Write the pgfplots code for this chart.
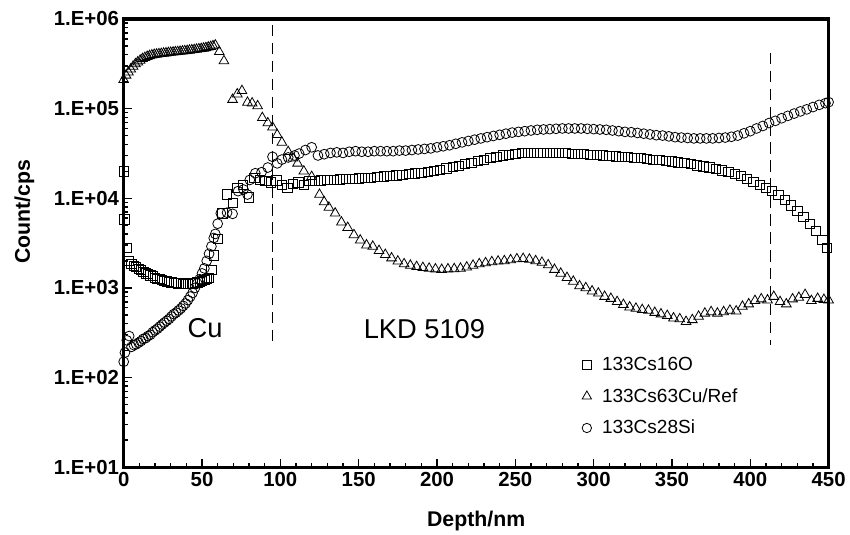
\documentclass[border=0pt]{standalone}
\usepackage{fontspec}
\setmainfont{Liberation Sans}
\usepackage{pgfplots}
\pgfplotsset{compat=1.18}

% depth profiles, counts per second
\pgfplotstableread{
x y
0 2.0e4
0.5 5.8e3
2 2.8e3
3.5 2.0e3
5 1.85e3
6.5 1.75e3
8 1.7e3
9.5 1.62e3
11 1.58e3
12.5 1.52e3
14 1.45e3
15.5 1.42e3
17 1.38e3
18.5 1.35e3
20 1.3e3
21.5 1.27e3
23 1.25e3
24.5 1.22e3
26 1.2e3
27.5 1.18e3
29 1.17e3
30.5 1.15e3
32 1.14e3
33.5 1.13e3
35 1.12e3
36.5 1.12e3
38 1.1e3
39.5 1.1e3
41 1.1e3
42.5 1.12e3
44 1.12e3
45.5 1.13e3
47 1.15e3
48.5 1.17e3
50 1.2e3
51.5 1.22e3
53 1.25e3
54.5 1.3e3
56 1.6e3
57.5 2.3e3
60 3.5e3
63 6.8e3
66 1.1e4
69.5 8.9e3
72.5 1.3e4
76 1.4e4
80 1.02e4
83.5 1.7e4
87 1.6e4
90.5 1.55e4
94 1.5e4
97.5 1.58e4
101 1.42e4
104.5 1.3e4
108 1.45e4
111.5 1.5e4
115 1.42e4
118.5 1.55e4
122 1.55e4
126 1.58e4
130 1.6e4
134 1.6e4
138 1.62e4
142 1.63e4
146 1.65e4
150 1.66e4
154 1.68e4
158 1.7e4
162 1.72e4
166 1.75e4
170 1.78e4
174 1.8e4
178 1.83e4
182 1.86e4
186 1.9e4
190 1.93e4
194 1.97e4
198 2.02e4
202 2.08e4
206 2.15e4
210 2.22e4
214 2.3e4
218 2.4e4
222 2.5e4
226 2.6e4
230 2.7e4
234 2.8e4
238 2.9e4
242 3.0e4
246 3.07e4
250 3.13e4
254 3.18e4
258 3.2e4
262 3.22e4
266 3.23e4
270 3.23e4
274 3.22e4
278 3.2e4
282 3.18e4
286 3.15e4
290 3.12e4
294 3.1e4
298 3.07e4
302 3.03e4
306 3.0e4
310 2.97e4
314 2.93e4
318 2.9e4
322 2.87e4
326 2.83e4
330 2.8e4
334 2.75e4
338 2.7e4
342 2.66e4
346 2.62e4
350 2.57e4
354 2.52e4
358 2.47e4
362 2.4e4
366 2.33e4
370 2.27e4
374 2.2e4
378 2.12e4
382 2.04e4
386 1.96e4
390 1.87e4
394 1.77e4
398 1.65e4
402 1.53e4
406 1.42e4
410 1.3e4
414 1.2e4
418 1.08e4
422 9.5e3
426 8.3e3
430 7.2e3
434 6.2e3
438 5.2e3
442 4.3e3
446 3.4e3
449 2.8e3
}\csO

\pgfplotstableread{
x y
0 2.1e5
1.5 2.35e5
3 2.55e5
4.5 2.75e5
6 2.95e5
7.5 3.15e5
9 3.3e5
10.5 3.45e5
12 3.6e5
13.5 3.7e5
15 3.8e5
16.5 3.88e5
18 3.95e5
19.5 4.0e5
21 4.03e5
22.5 4.07e5
24 4.1e5
25.5 4.13e5
27 4.16e5
28.5 4.2e5
30 4.22e5
31.5 4.25e5
33 4.28e5
34.5 4.3e5
36 4.33e5
37.5 4.36e5
39 4.4e5
40.5 4.42e5
42 4.46e5
43.5 4.5e5
45 4.53e5
46.5 4.57e5
48 4.62e5
49.5 4.66e5
51 4.7e5
52.5 4.76e5
54 4.83e5
55.5 4.9e5
57 5.0e5
58.5 5.1e5
61 4.3e5
64 3.4e5
69.5 1.26e5
72.5 1.45e5
75.5 1.58e5
79 1.17e5
82 1.15e5
85.5 1.07e5
88.5 7.9e4
92 6.9e4
95 6.2e4
98 5.1e4
101 4.2e4
105 3.3e4
108 2.8e4
111 2.45e4
115 2.0e4
120 1.74e4
125 1.1e4
128 9.1e3
131 7.9e3
135 6.8e3
139 5.4e3
143 4.7e3
147 3.9e3
151 3.4e3
155 3.0e3
159 2.9e3
163 2.6e3
167 2.35e3
171 2.15e3
175 1.98e3
179 1.85e3
183 1.78e3
187 1.72e3
191 1.68e3
195 1.65e3
199 1.62e3
203 1.6e3
207 1.62e3
211 1.63e3
215 1.65e3
219 1.7e3
223 1.78e3
227 1.85e3
231 1.9e3
235 1.95e3
239 1.98e3
243 2.0e3
247 2.05e3
251 2.1e3
255 2.12e3
259 2.08e3
263 2.0e3
267 1.92e3
271 1.8e3
275 1.6e3
279 1.45e3
283 1.3e3
287 1.18e3
291 1.05e3
295 1.0e3
299 9.2e2
303 8.7e2
307 8.0e2
311 7.6e2
315 7.0e2
319 6.5e2
323 6.1e2
327 5.9e2
331 5.7e2
335 5.6e2
339 5.3e2
343 5.1e2
347 4.9e2
351 4.6e2
355 4.5e2
359 4.2e2
363 4.4e2
367 4.8e2
371 5.2e2
375 5.4e2
379 5.2e2
383 5.4e2
387 5.6e2
391 5.5e2
395 6.2e2
399 6.6e2
403 7.2e2
407 7.5e2
411 7.3e2
415 8.0e2
419 7.0e2
423 6.6e2
427 7.5e2
431 7.8e2
435 8.4e2
439 7.2e2
443 7.6e2
447 7.4e2
450 7.3e2
}\csCu

\pgfplotstableread{
x y
0 1.5e2
0.8 1.9e2
2 2.6e2
3.5 2.9e2
5 2.2e2
6.5 2.3e2
8 2.35e2
9.5 2.45e2
11 2.55e2
12.5 2.7e2
14 2.75e2
15.5 2.9e2
17 3.0e2
18.5 3.2e2
20 3.35e2
21.5 3.5e2
23 3.7e2
24.5 3.9e2
26 4.1e2
27.5 4.3e2
29 4.5e2
30.5 4.8e2
32 5.1e2
33.5 5.3e2
35 5.6e2
36.5 5.9e2
38 6.3e2
39.5 6.7e2
41 7.3e2
42.5 8.0e2
44 8.8e2
45.5 1.0e3
47 1.12e3
48.5 1.25e3
50 1.45e3
51.5 1.65e3
53 2.0e3
54.5 2.4e3
56 2.9e3
57.5 3.6e3
58.5 4.0e3
60 5.2e3
62 6.8e3
66 6.9e3
69.5 6.7e3
73 1.2e4
76.5 1.25e4
79 1.1e4
80.5 1.6e4
84 1.9e4
88 1.95e4
92 2.2e4
95 2.9e4
98 2.45e4
101 2.7e4
105 2.85e4
109 3.0e4
112 3.15e4
116 3.45e4
120 3.7e4
124 3.0e4
128 3.1e4
132 3.2e4
136 3.25e4
140 3.2e4
144 3.3e4
148 3.35e4
152 3.3e4
156 3.3e4
160 3.35e4
164 3.35e4
168 3.35e4
172 3.35e4
176 3.4e4
180 3.4e4
184 3.45e4
188 3.5e4
192 3.55e4
196 3.6e4
200 3.7e4
204 3.8e4
208 3.9e4
212 4.05e4
216 4.2e4
220 4.35e4
224 4.5e4
228 4.65e4
232 4.8e4
236 4.95e4
240 5.1e4
244 5.25e4
248 5.4e4
252 5.5e4
256 5.6e4
260 5.7e4
264 5.8e4
268 5.85e4
272 5.9e4
276 5.95e4
280 6.0e4
284 6.0e4
288 6.0e4
292 6.0e4
296 5.95e4
300 5.9e4
304 5.85e4
308 5.8e4
312 5.7e4
316 5.6e4
320 5.5e4
324 5.45e4
328 5.35e4
332 5.25e4
336 5.15e4
340 5.05e4
344 5.0e4
348 4.9e4
352 4.8e4
356 4.75e4
360 4.7e4
364 4.65e4
368 4.65e4
372 4.65e4
376 4.65e4
380 4.7e4
384 4.75e4
388 4.85e4
392 5.0e4
396 5.3e4
400 5.6e4
404 6.0e4
408 6.4e4
412 6.9e4
416 7.3e4
420 7.8e4
424 8.3e4
428 8.8e4
432 9.3e4
436 9.8e4
440 1.04e5
444 1.1e5
448 1.15e5
450 1.18e5
}\csSi

\begin{document}
\begin{tikzpicture}
\begin{axis}[
  scale only axis,
  width=530pt, height=337pt,
  xmin=0, xmax=450,
  ymin=10, ymax=1e6,
  ymode=log, log basis y=10,
  xtick={0,50,...,450},
  minor x tick num=4,
  ytick={1e1,1e2,1e3,1e4,1e5,1e6},
  yticklabels={1.E+01,1.E+02,1.E+03,1.E+04,1.E+05,1.E+06},
  minor ytick={2e1,3e1,4e1,5e1,6e1,7e1,8e1,9e1,
               2e2,3e2,4e2,5e2,6e2,7e2,8e2,9e2,
               2e3,3e3,4e3,5e3,6e3,7e3,8e3,9e3,
               2e4,3e4,4e4,5e4,6e4,7e4,8e4,9e4,
               2e5,3e5,4e5,5e5,6e5,7e5,8e5,9e5},
  xtick pos=left, ytick pos=left,
  tick align=inside,
  major tick length=6pt, minor tick length=3.5pt,
  every tick/.style={black, line width=1.1pt},
  axis line style={line width=2.4pt},
  axis on top,
  clip=false,
  /pgf/number format/assume math mode=true,
  tick label style={font=\bfseries\fontsize{15.3}{17}\selectfont},
  xlabel={Depth/nm},
  ylabel={Count/cps},
  label style={font=\bfseries\fontsize{16}{18}\selectfont},
  xlabel style={at={(axis description cs:0.5,-0.119)}, anchor=center},
  ylabel style={at={(axis description cs:-0.141,0.57)}, anchor=center},
  legend style={draw=none, fill=none, at={(axis description cs:0.64,0.252)}, anchor=north west,
    font=\fontsize{14.3}{16}\selectfont, row sep=8pt, inner sep=0pt},
  legend cell align=left,
  legend image code/.code={\path (0cm,0cm) (0.62cm,0cm);
    \draw[#1, mark options={scale=0.95}] plot coordinates {(0.3cm,0cm)};},
]
\addplot[black, only marks, mark=square, mark size=3.5pt, line width=0.6pt] table {\csO};
\addlegendentry{133Cs16O}
\addplot[black, only marks, mark=triangle, mark size=4.2pt, line width=0.6pt] table {\csCu};
\addlegendentry{133Cs63Cu/Ref}
\addplot[black, only marks, mark=o, mark size=3.7pt, line width=0.6pt] table {\csSi};
\addlegendentry{133Cs28Si}
\addplot[black, line width=0.8pt, dash pattern=on 8.5pt off 5pt, forget plot] coordinates {(95,8.6e5) (95,2.3e2)};
\addplot[black, line width=0.8pt, dash pattern=on 8.5pt off 5pt, forget plot] coordinates {(413,4.2e5) (413,2.3e2)};
\node[font=\fontsize{20.5}{23}\selectfont] at (axis cs:52,355) {Cu};
\node[font=\fontsize{20.5}{23}\selectfont] at (axis cs:192,350) {LKD 5109};
\end{axis}
\path ([xshift=-93pt,yshift=-50.6pt]current axis.south west) rectangle ([xshift=14.25pt,yshift=14.25pt]current axis.north east);
\end{tikzpicture}
\end{document}
